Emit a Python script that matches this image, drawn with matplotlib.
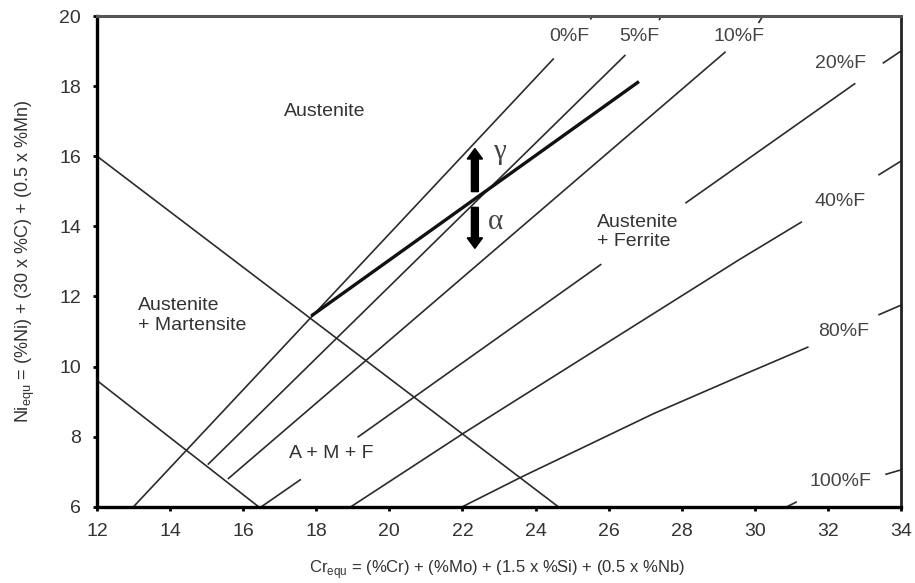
import matplotlib
matplotlib.use('Agg')
import matplotlib.pyplot as plt

plt.rcParams['font.family'] = ['Liberation Sans', 'DejaVu Sans']
plt.rcParams['mathtext.fontset'] = 'custom'
plt.rcParams['mathtext.rm'] = 'Liberation Sans'

# iso-ferrite lines, each as a list of (x list, y list) segments
f0 = [([13.0, 24.5], [6.0, 18.79]), ([25.5, 25.56], [19.9, 20.0])]
f5 = [([15.03, 26.46], [7.2, 18.89]), ([27.38, 27.44], [19.88, 20.0])]
f10 = [([15.58, 29.2], [6.79, 18.98]), ([30.1, 30.22], [19.8, 20.0])]
f20 = [([16.5, 17.58], [6.0, 6.78]), ([19.13, 25.8], [7.98, 12.92]),
       ([28.1, 32.75], [14.66, 18.08]), ([33.5, 34.0], [18.65, 19.0])]
f40 = [([18.95, 22.05, 29.56, 31.29], [6.0, 8.11, 13.04, 14.13]),
       ([33.38, 34.0], [15.46, 15.86])]
f80 = [([22.0, 23.64, 27.24, 29.56, 31.47], [6.0, 6.86, 8.66, 9.71, 10.56]),
       ([33.38, 34.0], [11.47, 11.75])]
f100 = [([30.88, 31.15], [6.0, 6.14]), ([33.57, 34.0], [6.92, 7.05])]
ferrite_lines = [f0, f5, f10, f20, f40, f80, f100]

ferrite_labels = ['0%F', '5%F', '10%F', '20%F', '40%F', '80%F', '100%F']
label_x = [24.92, 26.83, 29.56, 32.34, 32.34, 32.43, 32.34]
label_y = [19.41, 19.41, 19.41, 18.65, 14.7, 10.99, 6.71]

# martensite boundaries
mart_hi_x = [12.0, 24.62]
mart_hi_y = [16.0, 6.0]
mart_lo_x = [12.0, 16.42]
mart_lo_y = [9.6, 6.0]

# gamma / alpha boundary
ga_x = [17.86, 26.83]
ga_y = [11.44, 18.13]

arrow_x = 22.34
gamma_arrow = [14.99, 16.22]
alpha_arrow = [14.54, 13.37]

xticks = list(range(12, 35, 2))
yticks = list(range(6, 21, 2))

line_c = '#2b2b2b'
text_c = '#333333'

fig = plt.figure(figsize=(9.15, 5.83), dpi=100)
ax = fig.add_axes([97 / 915, 1 - 506.7 / 583, (901 - 97) / 915, (506.7 - 16) / 583])

for segs in ferrite_lines:
    for sx, sy in segs:
        ax.plot(sx, sy, color=line_c, lw=1.2, solid_capstyle='butt')

ax.plot(mart_hi_x, mart_hi_y, color=line_c, lw=1.2)
ax.plot(mart_lo_x, mart_lo_y, color=line_c, lw=1.2)
ax.plot(ga_x, ga_y, color='#111111', lw=2.4, solid_capstyle='butt')

for lab, lx, ly in zip(ferrite_labels, label_x, label_y):
    ax.text(lx, ly, lab, ha='center', va='center', fontsize=14, color='#444444')

ax.arrow(arrow_x, gamma_arrow[0], 0, gamma_arrow[1] - gamma_arrow[0], width=0.19,
         head_width=0.42, head_length=0.3, length_includes_head=True, color='black')
ax.arrow(arrow_x, alpha_arrow[0], 0, alpha_arrow[1] - alpha_arrow[0], width=0.19,
         head_width=0.42, head_length=0.3, length_includes_head=True, color='black')
ax.text(23.0, 16.12, 'γ', fontsize=21, family='Liberation Serif', color='#444444',
        ha='center', va='center')
ax.text(22.91, 14.13, 'α', fontsize=21, family='Liberation Serif', color='#444444',
        ha='center', va='center')

ax.text(18.23, 17.27, 'Austenite', fontsize=14, color=text_c, ha='center', va='center')
ax.text(13.12, 11.45, 'Austenite\n+ Martensite', fontsize=14, color=text_c,
        ha='left', va='center', linespacing=1.25)
ax.text(25.69, 13.85, 'Austenite\n+ Ferrite', fontsize=14, color=text_c,
        ha='left', va='center', linespacing=1.15)
ax.text(18.4, 7.52, 'A + M + F', fontsize=14, color=text_c, ha='center', va='center')

ax.set_xlim(12, 34)
ax.set_ylim(6, 20)
ax.set_xticks(xticks)
ax.set_yticks(yticks)
ax.tick_params(direction='out', length=3, width=2, labelsize=14, colors='black',
               labelcolor='#333333', pad=8.5)
for s in ['left', 'bottom']:
    ax.spines[s].set_linewidth(2.4)
    ax.spines[s].set_color('black')
ax.spines['right'].set_linewidth(2.0)
ax.spines['right'].set_color('#222222')
ax.spines['top'].set_linewidth(2.2)
ax.spines['top'].set_color('#555555')

fig.text(497 / 915, 1 - 570 / 583,
         'Cr$_\\mathregular{equ}$ = (%Cr) + (%Mo) + (1.5 x %Si) + (0.5 x %Nb)',
         ha='center', va='center', fontsize=12, color=text_c)
fig.text(25 / 915, 1 - 261 / 583,
         'Ni$_\\mathregular{equ}$ = (%Ni) + (30 x %C) + (0.5 x %Mn)',
         ha='center', va='center', rotation=90, fontsize=13, color=text_c)

fig.savefig('out.png', dpi=100)
